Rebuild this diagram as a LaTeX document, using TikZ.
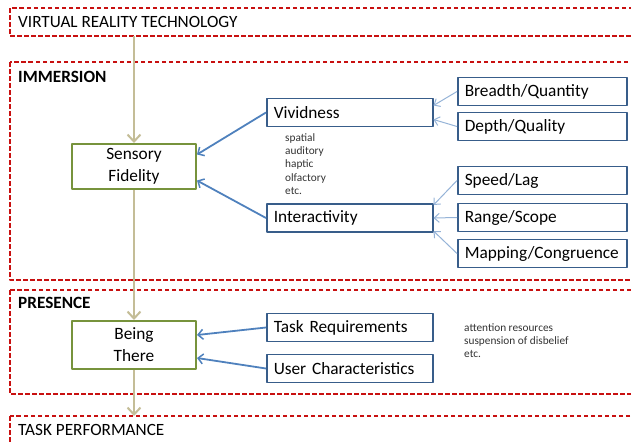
\documentclass[tikz,border=0pt]{standalone}
\usepackage{fontspec}
\setmainfont{Carlito}
\usetikzlibrary{arrows.meta}
\definecolor{zonered}{RGB}{200,16,16}
\definecolor{fidgreen}{RGB}{119,147,60}
\definecolor{boxblue}{RGB}{56,93,138}
\definecolor{linkblue}{RGB}{79,129,189}
\definecolor{thinblue}{RGB}{149,179,215}
\definecolor{flowtan}{RGB}{196,189,151}
\tikzset{
  zone/.style={draw=zonered, line width=1.3pt, dash pattern=on 4.5pt off 2.5pt},
  zonelabel/.style={anchor=west, inner sep=0pt, font=\fontsize{17.2}{19}\selectfont},
  fidbox/.style={draw=fidgreen, line width=2pt, minimum width=124pt, minimum height=45pt, align=center, font=\fontsize{17.3}{22}\selectfont},
  factor/.style={draw=boxblue, line width=1.5pt, minimum width=166pt, minimum height=28pt, anchor=west, text width=152pt, align=left, font=\fontsize{17.3}{19}\selectfont},
  sub/.style={draw=boxblue, line width=1.5pt, minimum width=169pt, minimum height=28pt, anchor=west, text width=155pt, align=left, font=\fontsize{17.3}{19}\selectfont},
  note/.style={anchor=north west, inner sep=0pt, align=left, font=\fontsize{11.3}{13.4}\selectfont, text=black!80},
  flow/.style={draw=flowtan, line width=2.5pt, -{Straight Barb[length=7pt, width=13pt, line width=2pt]}},
  link/.style={draw=linkblue, line width=1.8pt, -{Straight Barb[length=5pt, width=10pt, line width=1.5pt]}},
  thin/.style={draw=thinblue, line width=1pt, -{Straight Barb[length=5pt, width=9pt]}}
}
\begin{document}
\begin{tikzpicture}[x=1pt, y=-1pt, line join=round]
	\useasboundingbox (0,0) rectangle (631,442);
	\clip (0,0) rectangle (631,442);
	% zones
	\draw[zone] (10,8) rectangle (640,36);
	\draw[zone] (10,62) rectangle (640,280);
	\draw[zone] (10,290) rectangle (640,394);
	\draw[zone] (10,416) rectangle (640,460);
	\node[zonelabel] (vrt) at (18,22) {VIRTUAL REALITY TECHNOLOGY};
	\node[zonelabel, font=\fontsize{17.2}{19}\selectfont\bfseries] (imm) at (18,77) {IMMERSION};
	\node[zonelabel, font=\fontsize{17.2}{19}\selectfont\bfseries] (pres) at (18,303) {PRESENCE};
	\node[zonelabel] (tp) at (18,430) {TASK PERFORMANCE};
	\coordinate (vrtb) at (134,36);
	\coordinate (tpt) at (134,416);
	% main boxes
	\node[fidbox] (sf) at (134,166.5) {Sensory\\Fidelity};
	\node[fidbox, minimum height=48pt] (bt) at (134,345) {Being\\There};
	\node[factor] (viv) at (266,112.5) {Vividness};
	\node[factor] (int) at (266,218) {Interactivity};
	\node[factor] (treq) at (266,327.5) {Task Requirements};
	\node[factor] (uch) at (266,368.5) {User Characteristics};
	\node[sub] (bq) at (457,91.5) {Breadth/Quantity};
	\node[sub] (dq) at (457,126.5) {Depth/Quality};
	\node[sub] (sl) at (457,180.5) {Speed/Lag};
	\node[sub] (rs) at (457,217.5) {Range/Scope};
	\node[sub] (mc) at (457,253.5) {Mapping/Congruence};
	% notes
	\node[note] (senses) at (285,133) {spatial\\auditory\\haptic\\olfactory\\etc.};
	\node[note] (attn) at (464,323) {attention resources\\suspension of disbelief\\etc.};
	% connectors
	\draw[flow] (vrtb) -- (sf.north);
	\draw[flow] (sf.south) -- (bt.north);
	\draw[flow] (bt.south) -- (tpt);
	\draw[link] (viv.west) -- ([yshift=12pt]sf.east);
	\draw[link] (int.west) -- ([yshift=-14pt]sf.east);
	\draw[link] (treq.west) -- ([yshift=10pt]bt.east);
	\draw[link] (uch.west) -- ([yshift=-13pt]bt.east);
	\draw[thin] (bq.west) -- ([yshift=7pt]viv.east);
	\draw[thin] (dq.west) -- ([yshift=-7pt]viv.east);
	\draw[thin] (sl.west) -- ([yshift=13pt]int.east);
	\draw[thin] (rs.west) -- (int.east);
	\draw[thin] (mc.west) -- ([yshift=-13pt]int.east);
\end{tikzpicture}
\end{document}
